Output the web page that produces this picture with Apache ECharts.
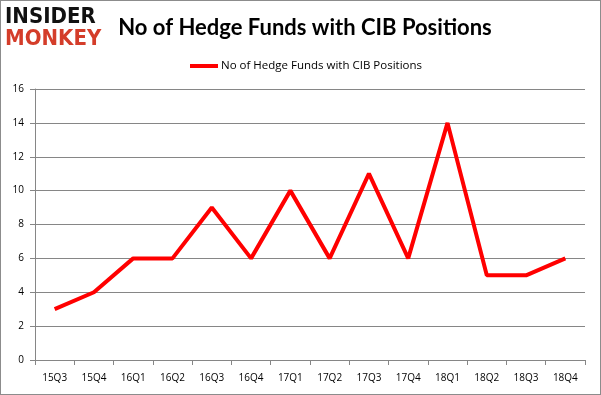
<!DOCTYPE html>
<html><head><meta charset="utf-8">
<script src="https://cdn.jsdelivr.net/npm/echarts@6/dist/echarts.min.js"></script>
<style>html,body{margin:0;padding:0;background:#fff}#c{width:601px;height:395px;box-sizing:border-box;border:1px solid #8c8c8c}</style>
</head><body><div id="c"></div>
<script>
const categories = ["15Q3","15Q4","16Q1","16Q2","16Q3","16Q4","17Q1","17Q2","17Q3","17Q4","18Q1","18Q2","18Q3","18Q4"];
const funds = [3,4,6,6,9,6,10,6,11,6,14,5,5,6];
const seriesName = "No of Hedge Funds with CIB Positions";
const chartTitle = "No of Hedge Funds with CIB Positions";
const chart = echarts.init(document.getElementById('c'));
chart.setOption({
  animation:false,
  title:{text:chartTitle,left:299,top:11,textAlign:'center',textStyle:{fontFamily:'Lato',fontWeight:'bold',fontSize:22,color:'#000'}},
  legend:{data:[seriesName],top:54,left:184,itemWidth:28,itemHeight:4,itemGap:3,icon:'rect',
    textStyle:{fontFamily:'Open Sans',fontSize:11.5,color:'#000',padding:[0,0,0,-2]}},
  graphic:[
    {type:'text',left:4,top:5,style:{text:'INSIDER',font:'900 22px "DejaVu Sans Condensed", "DejaVu Sans"',fill:'#111'}},
    {type:'text',left:4,top:27,style:{text:'MONKEY',font:'900 22px "DejaVu Sans Condensed", "DejaVu Sans"',fill:'#d43d2a'}}
  ],
  grid:{left:34,right:15,top:88,bottom:34,containLabel:false},
  xAxis:{type:'category',data:categories,boundaryGap:true,
    axisLine:{lineStyle:{color:'#868686',width:1}},
    axisTick:{show:true,alignWithLabel:false,length:5,lineStyle:{color:'#868686'}},
    axisLabel:{fontFamily:'Open Sans',fontSize:10,color:'#000',margin:13}},
  yAxis:{type:'value',min:0,max:16,interval:2,
    axisLine:{show:true,lineStyle:{color:'#868686',width:1}},
    axisTick:{show:true,length:5,lineStyle:{color:'#868686'}},
    splitLine:{lineStyle:{color:'#868686',width:1}},
    axisLabel:{fontFamily:'Open Sans',fontSize:10,color:'#000',margin:11}},
  series:[{name:seriesName,type:'line',data:funds,symbol:'none',lineStyle:{color:'#ff0000',width:4},itemStyle:{color:'#ff0000'}}]
});
</script></body></html>
